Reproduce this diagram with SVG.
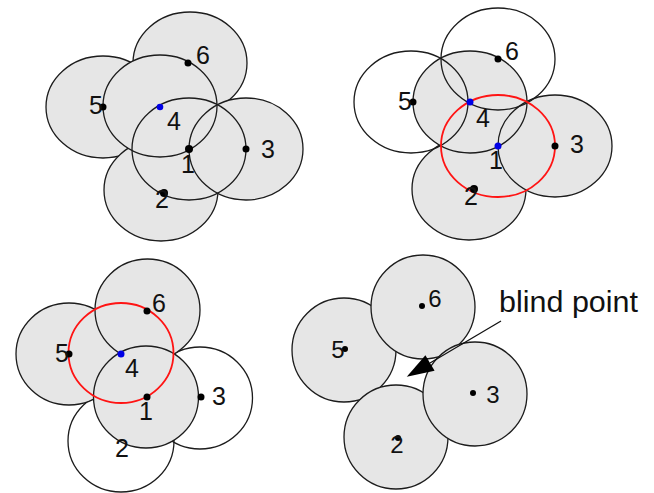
<svg xmlns="http://www.w3.org/2000/svg" width="654" height="493" viewBox="0 0 654 493">
  <style>
    .rg { fill: #e6e6e6; stroke: #1c1c1c; stroke-width: 1.3; }
    .rw { fill: none; stroke: #1c1c1c; stroke-width: 1.3; }
    .rf { fill: #e6e6e6; stroke: none; }
    .rs { fill: none; stroke: #1c1c1c; stroke-width: 1.3; }
    .red { fill: none; stroke: #ff1414; stroke-width: 1.8; }
    .dot { fill: #000000; }
    .blue { fill: #0000e6; }
    .lb { font-family: "Liberation Sans", Arial, sans-serif; font-size: 25px; fill: #111111; text-anchor: middle; }
    .lb4 { font-family: "Liberation Sans", Arial, sans-serif; font-size: 24px; fill: #111111; text-anchor: middle; }
    .note { font-family: "Liberation Sans", Arial, sans-serif; font-size: 30px; fill: #111111; }
    .arrow { stroke: #111111; stroke-width: 1.3; fill: none; }
  </style>
  <defs>
    <marker id="head" markerUnits="userSpaceOnUse" markerWidth="30" markerHeight="20" viewBox="0 -10 30 20" refX="0" refY="0" orient="auto" overflow="visible">
      <path d="M0,-9 L27,0 L0,9 Z" fill="#000000"/>
    </marker>
  </defs>
  <rect x="0" y="0" width="654" height="493" fill="#ffffff"/>

  <!-- Panel 1 (top left) -->
  <g id="panel1-ranges">
    <ellipse id="p1-r6" class="rg" cx="190" cy="63" rx="57" ry="51"/>
    <ellipse id="p1-r5" class="rg" cx="103" cy="107" rx="57" ry="51"/>
    <ellipse id="p1-r2" class="rg" cx="161" cy="190" rx="57" ry="51"/>
    <ellipse id="p1-r3f" class="rf" cx="246" cy="149" rx="57" ry="51"/>
    <ellipse id="p1-r1f" class="rf" cx="189" cy="149" rx="57" ry="51"/>
    <ellipse id="p1-r4" class="rg" cx="160" cy="106" rx="57" ry="51"/>
    <ellipse id="p1-r1" class="rs" cx="189" cy="149" rx="57" ry="51"/>
    <ellipse id="p1-r3" class="rs" cx="246" cy="149" rx="57" ry="51"/>
  </g>
  <g id="p1-n6"><circle class="dot" cx="188" cy="63" r="3.5"/><text class="lb" x="203" y="64">6</text></g>
  <g id="p1-n5"><circle class="dot" cx="103" cy="107" r="3.5"/><text class="lb" x="96" y="114">5</text></g>
  <g id="p1-n4"><circle class="blue" cx="160" cy="107" r="3.3"/><text class="lb" x="174" y="130">4</text></g>
  <g id="p1-n3"><circle class="dot" cx="246" cy="149" r="3.5"/><text class="lb" x="268" y="158">3</text></g>
  <g id="p1-n1"><circle class="dot" cx="189" cy="149" r="4"/><text class="lb" x="188" y="173">1</text></g>
  <g id="p1-n2"><circle class="dot" cx="164" cy="193" r="4"/><text class="lb" x="162" y="208">2</text></g>

  <!-- Panel 2 (top right) -->
  <g id="panel2-ranges">
    <ellipse id="p2-r2" class="rg" cx="469" cy="189" rx="57" ry="51"/>
    <ellipse id="p2-r1f" class="rf" cx="498" cy="146" rx="57" ry="51"/>
    <ellipse id="p2-r4f" class="rf" cx="470" cy="102" rx="57" ry="51"/>
    <ellipse id="p2-r3f" class="rf" cx="555" cy="146" rx="57" ry="51"/>
    <ellipse id="p2-r4" class="rs" cx="470" cy="102" rx="57" ry="51"/>
    <ellipse id="p2-r3" class="rs" cx="555" cy="146" rx="57" ry="51"/>
    <ellipse id="p2-r5" class="rw" cx="411" cy="102" rx="57" ry="51"/>
    <ellipse id="p2-r6" class="rw" cx="498" cy="59" rx="57" ry="51"/>
    <ellipse id="p2-r1" class="red" cx="498" cy="146" rx="57" ry="51"/>
  </g>
  <g id="p2-n6"><circle class="dot" cx="498" cy="59" r="3.5"/><text class="lb" x="512" y="60">6</text></g>
  <g id="p2-n5"><circle class="dot" cx="413" cy="102" r="3.5"/><text class="lb" x="405" y="110">5</text></g>
  <g id="p2-n4"><circle class="blue" cx="470" cy="102" r="3.5"/><text class="lb" x="483" y="127">4</text></g>
  <g id="p2-n3"><circle class="dot" cx="555" cy="146" r="3.5"/><text class="lb" x="577" y="153">3</text></g>
  <g id="p2-n1"><circle class="blue" cx="498" cy="146" r="3.5"/><text class="lb" x="496" y="169">1</text></g>
  <g id="p2-n2"><circle class="dot" cx="474" cy="189" r="4"/><text class="lb" x="471" y="205">2</text></g>

  <!-- Panel 3 (bottom left) -->
  <g id="panel3-ranges">
    <ellipse id="p3-r2" class="rw" cx="121" cy="441" rx="53" ry="51"/>
    <ellipse id="p3-r3" class="rw" cx="200" cy="398" rx="52.5" ry="51"/>
    <ellipse id="p3-r5" class="rg" cx="69" cy="354" rx="53" ry="51"/>
    <ellipse id="p3-r6" class="rg" cx="147.5" cy="310" rx="52.5" ry="51"/>
    <ellipse id="p3-r1" class="rg" cx="146" cy="397" rx="52.5" ry="51"/>
    <ellipse id="p3-r4" class="red" cx="121" cy="353" rx="52.5" ry="50"/>
  </g>
  <g id="p3-n6"><circle class="dot" cx="147" cy="311" r="3.5"/><text class="lb" x="159" y="312">6</text></g>
  <g id="p3-n5"><circle class="dot" cx="69" cy="354" r="3.5"/><text class="lb" x="62" y="362">5</text></g>
  <g id="p3-n4"><circle class="blue" cx="121" cy="354" r="3.5"/><text class="lb" x="132" y="377">4</text></g>
  <g id="p3-n3"><circle class="dot" cx="201" cy="397" r="3.5"/><text class="lb" x="219" y="405">3</text></g>
  <g id="p3-n1"><circle class="dot" cx="147" cy="397" r="3.5"/><text class="lb" x="146" y="420">1</text></g>
  <g id="p3-n2"><text class="lb" x="122" y="457">2</text></g>

  <!-- Panel 4 (bottom right) -->
  <g id="panel4-ranges">
    <circle id="p4-r5" class="rg" cx="344" cy="350" r="52"/>
    <circle id="p4-r6" class="rg" cx="423" cy="307" r="52"/>
    <circle id="p4-r2" class="rg" cx="396" cy="437" r="52"/>
    <circle id="p4-r3" class="rg" cx="475" cy="394" r="52"/>
  </g>
  <g id="p4-n6"><circle class="dot" cx="422" cy="306" r="3"/><text class="lb4" x="435" y="307">6</text></g>
  <g id="p4-n5"><circle class="dot" cx="345" cy="349" r="3"/><text class="lb4" x="338" y="358">5</text></g>
  <g id="p4-n3"><circle class="dot" cx="473" cy="393" r="3"/><text class="lb4" x="493" y="403">3</text></g>
  <g id="p4-n2"><circle class="dot" cx="398" cy="438" r="3"/><text class="lb4" x="397" y="453">2</text></g>

  <g id="connectors">
    <line class="arrow" x1="501" y1="321" x2="430" y2="363" marker-end="url(#head)"/>
  </g>
  <g id="label-blind-point">
    <text class="note" x="499" y="312" textLength="139" lengthAdjust="spacingAndGlyphs">blind point</text>
  </g>
</svg>
